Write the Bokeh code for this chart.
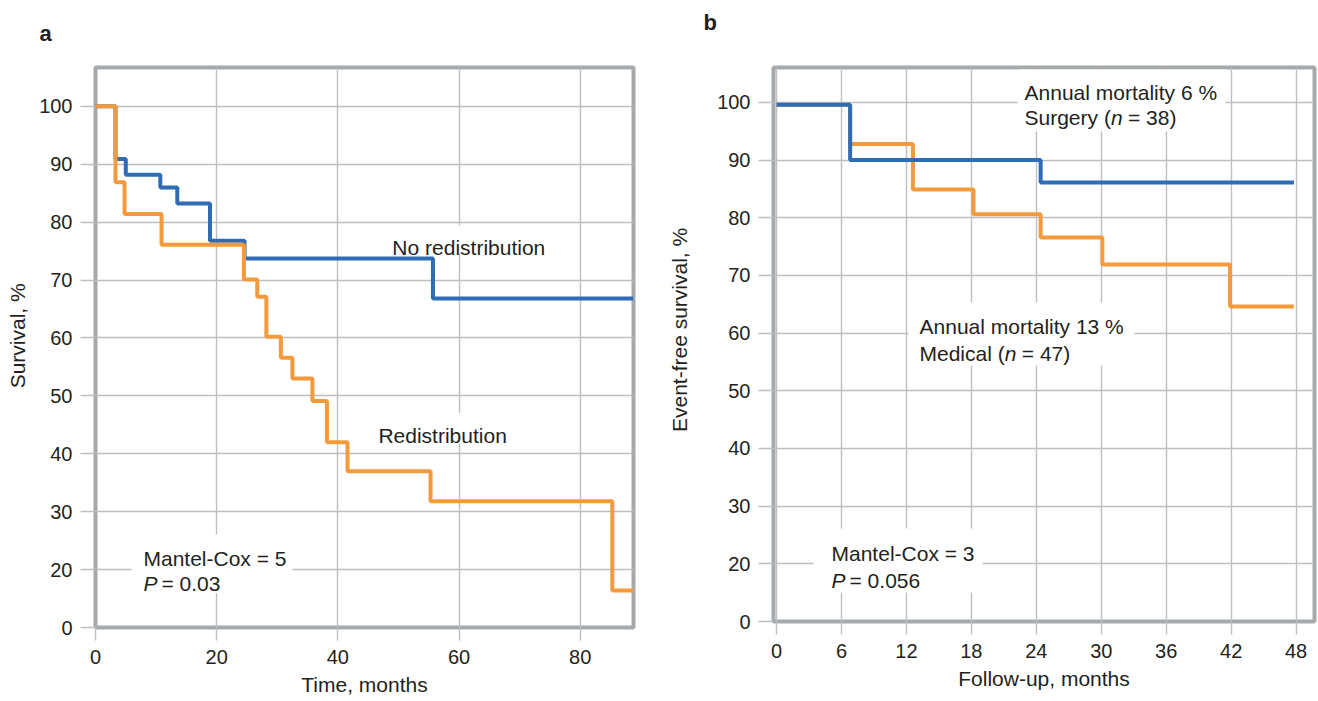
from bokeh.plotting import figure
from bokeh.models import Label, BoxAnnotation, FixedTicker, Range1d, Title
from bokeh.layouts import row
from bokeh.embed import file_html
from bokeh.resources import INLINE

# ---- Panel a: survival by redistribution status (months, %) ----
months_noredis = [0, 3.3, 5.0, 10.7, 13.5, 18.9, 24.6, 55.7, 88.8]
surv_noredis = [100, 90.9, 88.2, 86.0, 83.2, 76.8, 73.7, 66.8, 66.8]

months_redis = [0, 3.3, 4.8, 10.9, 24.5, 26.7, 28.2, 30.6, 32.5, 35.8, 38.2, 41.6, 55.3, 85.3, 88.8]
surv_redis = [100, 86.9, 81.4, 76.1, 70.1, 67.1, 60.2, 56.6, 53.0, 49.1, 42.0, 37.0, 31.8, 16.4, 16.4]

# ---- Panel b: event-free survival by treatment (months, %) ----
months_surgery = [0, 6.8, 24.4, 47.8]
surv_surgery = [99.6, 90.0, 86.1, 86.1]

months_medical = [0, 6.8, 12.6, 18.2, 24.4, 30.1, 41.9, 47.8]
surv_medical = [99.6, 92.8, 84.9, 80.6, 76.6, 71.9, 64.6, 64.6]

xticks_a = [0, 20, 40, 60, 80]
xticks_b = [0, 6, 12, 18, 24, 30, 36, 42, 48]
yticks = [10, 20, 30, 40, 50, 60, 70, 80, 90, 100]
ytick_text = {10: "0"}

BLUE = "#2e6cb5"
ORANGE = "#f49a3c"
TEXT = "#231f20"
FRAME = "#a5a9ac"
GRID = "#bdbfc1"
FONT = "Liberation Sans"
NBSP = "\u00a0"


def style(p, xticks, xlabel, ylabel, ylabel_standoff):
    p.outline_line_color = FRAME
    p.outline_line_width = 4
    p.background_fill_color = "white"
    p.border_fill_color = "white"

    p.xaxis.ticker = FixedTicker(ticks=xticks)
    p.yaxis.ticker = FixedTicker(ticks=yticks)
    p.xgrid.ticker = FixedTicker(ticks=xticks)
    p.ygrid.ticker = FixedTicker(ticks=yticks)
    p.yaxis.major_label_overrides = ytick_text

    for g in (p.xgrid, p.ygrid):
        g.grid_line_color = GRID
        g.grid_line_width = 1.4

    for ax in (p.xaxis, p.yaxis):
        ax.axis_line_color = None
        ax.major_tick_line_color = GRID
        ax.major_tick_line_width = 1.4
        ax.major_tick_in = 0
        ax.minor_tick_line_color = None
        ax.major_label_text_font = FONT
        ax.major_label_text_font_size = "20px"
        ax.major_label_text_color = TEXT
        ax.axis_label_text_font = FONT
        ax.axis_label_text_font_style = "normal"
        ax.axis_label_text_font_size = "21px"
        ax.axis_label_text_color = TEXT

    p.xaxis.major_tick_out = 13
    p.yaxis.major_tick_out = 15
    p.xaxis.major_label_standoff = 9
    p.yaxis.major_label_standoff = 8

    p.xaxis.axis_label = xlabel
    p.xaxis.axis_label_standoff = 6
    p.yaxis.axis_label = ylabel
    p.yaxis.axis_label_standoff = ylabel_standoff


def letter(p, s, offset, standoff):
    p.add_layout(Title(text=s, align="left", vertical_align="top",
                       offset=offset, standoff=standoff, text_font=FONT,
                       text_font_size="22px", text_color=TEXT,
                       text_font_style="bold"), "above")


def white_box(p, left, right, bottom, top):
    p.add_layout(BoxAnnotation(left=left, right=right, bottom=bottom, top=top,
                               fill_color="white", fill_alpha=1.0,
                               line_color=None, level="underlay"))


def text(p, x, y, s, dx=0, italic=False):
    p.add_layout(Label(x=x, y=y, x_offset=dx, text=s, text_font=FONT,
                       text_font_size="21px", text_color=TEXT,
                       text_font_style="italic" if italic else "normal",
                       text_align="left", text_baseline="alphabetic"))


# ---------------- Panel a ----------------
pa = figure(width=660, height=701, x_range=Range1d(0, 88.8),
            y_range=Range1d(10, 106.7), output_backend="svg",
            toolbar_location=None, min_border_left=95, min_border_right=27,
            min_border_top=67, min_border_bottom=74)
style(pa, xticks_a, "Time, months", NBSP * 4 + "Survival, %", 7)
letter(pa, "a", -56, 40)

pa.step(months_noredis, surv_noredis, mode="after", line_color=BLUE, line_width=4)
pa.step(months_redis, surv_redis, mode="after", line_color=ORANGE, line_width=4)

white_box(pa, 47.0, 75.9, 74.6, 79.4)
text(pa, 49.0, 75.6, "No redistribution")
white_box(pa, 45.1, 69.3, 41.8, 47.1)
text(pa, 46.7, 43.15, "Redistribution")
white_box(pa, 5.94, 32.5, 15.9, 26.1)
text(pa, 7.92, 21.9, "Mantel-Cox = 5")
text(pa, 7.92, 17.6, "P", italic=True)
text(pa, 7.92, 17.6, "= 0.03", dx=18)

# ---------------- Panel b ----------------
pb = figure(width=658, height=695, x_range=Range1d(-0.28, 49.7),
            y_range=Range1d(10, 106.06), output_backend="svg",
            toolbar_location=None, min_border_left=113, min_border_right=4,
            min_border_top=67, min_border_bottom=74)
style(pb, xticks_b, "Follow-up, months", NBSP * 5 + "Event-free survival, %", 23)
letter(pb, "b\n", -70, 12)

pb.step(months_medical, surv_medical, mode="after", line_color=ORANGE, line_width=4)
pb.step(months_surgery, surv_surgery, mode="after", line_color=BLUE, line_width=4)

white_box(pb, 22.27, 41.48, 94.95, 105.7)
text(pb, 22.91, 101.7, "Annual mortality 6 %")
text(pb, 22.91, 97.38, "Surgery (")
text(pb, 22.91, 97.38, "n", dx=86.4, italic=True)
text(pb, 22.91, 97.38, "= 38)", dx=103.5)

white_box(pb, 12.2, 33.07, 54.38, 65.3)
text(pb, 13.21, 61.14, "Annual mortality 13 %")
text(pb, 13.21, 56.46, "Medical (")
text(pb, 13.21, 56.46, "n", dx=85.2, italic=True)
text(pb, 13.21, 56.46, "= 47)", dx=102.3)

white_box(pb, 3.42, 19.03, 15.03, 26.12)
text(pb, 5.08, 21.79, "Mantel-Cox = 3")
text(pb, 5.08, 17.11, "P", italic=True)
text(pb, 5.08, 17.11, "= 0.056", dx=18)

layout = row(pa, pb)
open("out.html", "w").write(file_html(layout, INLINE))
